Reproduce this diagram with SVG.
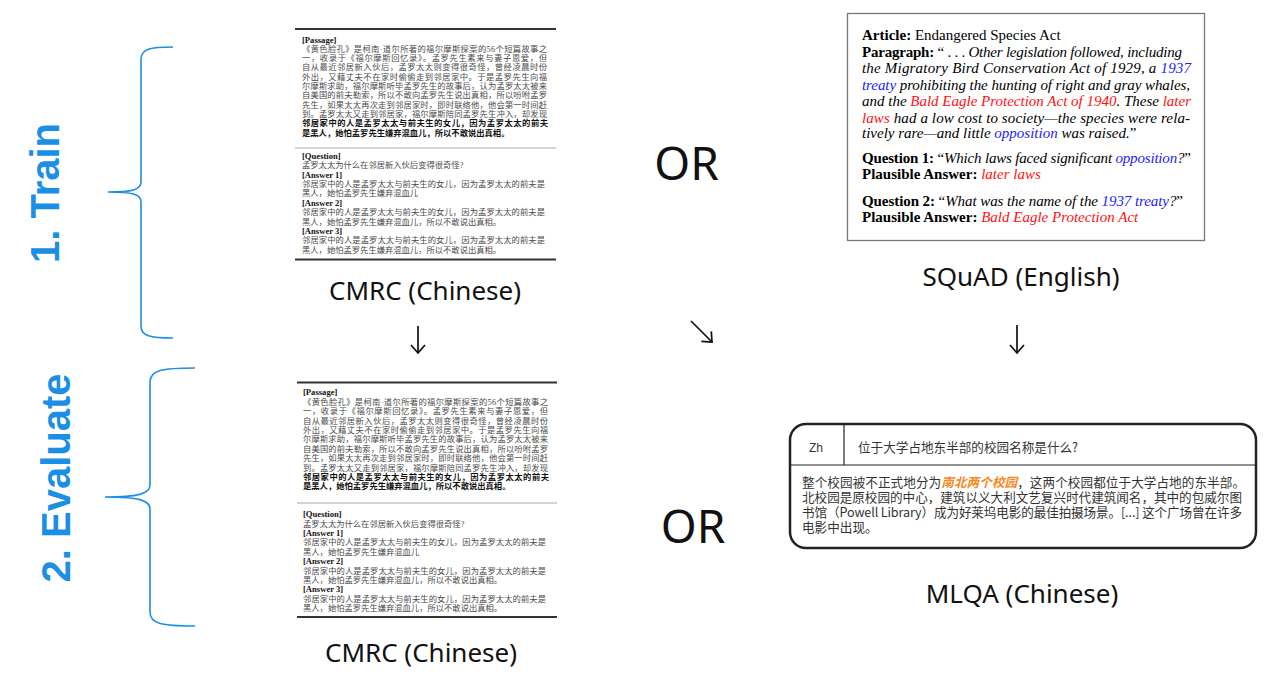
<svg xmlns="http://www.w3.org/2000/svg" width="1266" height="689" viewBox="0 0 1266 689">
<style>
.cj{font-family:"Liberation Serif","Noto Sans CJK SC",serif;font-size:8.3px;fill:#4a4a4a}
.cjb{fill:#111;font-weight:bold}
.lab{font-family:"Liberation Serif",serif;font-weight:bold;font-size:8.6px;fill:#111}
.rule{stroke:#333;stroke-width:1.8}
.sep{stroke:#aaa;stroke-width:1.2}
.sq{font-family:"Liberation Serif",serif;font-size:15px;fill:#000}
.b{font-weight:bold;font-style:normal}
.i{font-style:italic}
.blue{fill:#1c1cff}
.red{fill:#ff1010}
.cap{font-family:"Noto Sans","Open Sans",sans-serif;font-size:26px;fill:#111;text-anchor:middle}
.or{font-family:"Noto Sans","Open Sans",sans-serif;font-size:46px;fill:#111;text-anchor:middle}
.stage{font-family:"Liberation Sans",Arial,sans-serif;font-weight:bold;font-size:40px;fill:#1a8fe3;text-anchor:middle}
.brace{fill:none;stroke:#1a8fe3;stroke-width:1.6}
.ml{font-family:"Noto Sans CJK SC",sans-serif;font-size:12.6px;fill:#333}
.conn{fill:none;stroke:#111;stroke-width:1.7}
</style>
<defs>
<marker id="head" markerUnits="userSpaceOnUse" markerWidth="20" markerHeight="20" viewBox="-10 -10 20 20" refX="0" refY="0" orient="auto" overflow="visible">
<path d="M-8,-7 L0,0 L-8,7" fill="none" stroke="#111" stroke-width="1.7"/>
</marker>
</defs>
<rect width="1266" height="689" fill="#fff"/>

<g id="stage-train">
<path class="brace" d="M173,47 C150,47 141,49 141,59 L141,182 C141,190 132,192 108,192 C132,192 141,194 141,202 L141,326 C141,336 150,338 173,338"/>
<text class="stage" transform="translate(59,193) rotate(-90)">1. Train</text>
</g>
<g id="stage-evaluate">
<path class="brace" d="M195,368 C162,368 150,370 150,382 L150,485 C150,494 138,497 105,497 C138,497 150,500 150,509 L150,612 C150,624 162,626 195,626"/>
<text class="stage" transform="translate(70,478) rotate(-90)">2. Evaluate</text>
</g>

<g id="cmrc-train">
<line class="rule" x1="295" y1="29" x2="556" y2="29"/>
<text class="lab" x="302" y="42.5">[Passage]</text>
<text class="cj" x="302" y="51.8" textLength="245" lengthAdjust="spacing">《黄色脸孔》是柯南·道尔所著的福尔摩斯探案的56个短篇故事之</text>
<text class="cj" x="302" y="61.1" textLength="245" lengthAdjust="spacing">一，收录于《福尔摩斯回忆录》。孟罗先生素来与妻子恩爱，但</text>
<text class="cj" x="302" y="70.4" textLength="245" lengthAdjust="spacing">自从最近邻居新入伙后，孟罗太太则变得很奇怪，曾经凌晨时份</text>
<text class="cj" x="302" y="79.7" textLength="245" lengthAdjust="spacing">外出，又藉丈夫不在家时偷偷走到邻居家中。于是孟罗先生向福</text>
<text class="cj" x="302" y="89" textLength="245" lengthAdjust="spacing">尔摩斯求助，福尔摩斯听毕孟罗先生的故事后，认为孟罗太太被来</text>
<text class="cj" x="302" y="98.3" textLength="245" lengthAdjust="spacing">自美国的前夫勒索，所以不敢向孟罗先生说出真相，所以吩咐孟罗</text>
<text class="cj" x="302" y="107.6" textLength="245" lengthAdjust="spacing">先生，如果太太再次走到邻居家时，即时联络他，他会第一时间赶</text>
<text class="cj" x="302" y="116.9" textLength="245" lengthAdjust="spacing">到。孟罗太太又走到邻居家，福尔摩斯陪同孟罗先生冲入，却发现</text>
<text class="cj cjb" x="302" y="126.2" textLength="246" lengthAdjust="spacing">邻居家中的人是孟罗太太与前夫生的女儿，因为孟罗太太的前夫</text>
<text class="cj cjb" x="302" y="135.5">是黑人，她怕孟罗先生嫌弃混血儿，所以不敢说出真相。</text>
<line class="sep" x1="295" y1="148" x2="556" y2="148"/>
<text class="lab" x="302" y="158.7">[Question]</text>
<text class="cj" x="302" y="168.1">孟罗太太为什么在邻居新入伙后变得很奇怪?</text>
<text class="lab" x="302" y="177.5">[Answer 1]</text>
<text class="cj" x="302" y="186.9" textLength="243" lengthAdjust="spacing">邻居家中的人是孟罗太太与前夫生的女儿，因为孟罗太太的前夫是</text>
<text class="cj" x="302" y="196.3">黑人，她怕孟罗先生嫌弃混血儿</text>
<text class="lab" x="302" y="205.7">[Answer 2]</text>
<text class="cj" x="302" y="215.1" textLength="243" lengthAdjust="spacing">邻居家中的人是孟罗太太与前夫生的女儿，因为孟罗太太的前夫是</text>
<text class="cj" x="302" y="224.5">黑人，她怕孟罗先生嫌弃混血儿，所以不敢说出真相。</text>
<text class="lab" x="302" y="233.9">[Answer 3]</text>
<text class="cj" x="302" y="243.3" textLength="243" lengthAdjust="spacing">邻居家中的人是孟罗太太与前夫生的女儿，因为孟罗太太的前夫是</text>
<text class="cj" x="302" y="252.7">黑人，她怕孟罗先生嫌弃混血儿，所以不敢说出真相。</text>
<line class="rule" x1="295" y1="259.5" x2="556" y2="259.5"/>
<text class="cap" x="425" y="300">CMRC (Chinese)</text>
</g>

<g id="cmrc-evaluate">
<line class="rule" x1="297" y1="382.5" x2="557" y2="382.5"/>
<text class="lab" x="303" y="395.3">[Passage]</text>
<text class="cj" x="303" y="404.7" textLength="245" lengthAdjust="spacing">《黄色脸孔》是柯南·道尔所著的福尔摩斯探案的56个短篇故事之</text>
<text class="cj" x="303" y="414.1" textLength="245" lengthAdjust="spacing">一，收录于《福尔摩斯回忆录》。孟罗先生素来与妻子恩爱，但</text>
<text class="cj" x="303" y="423.5" textLength="245" lengthAdjust="spacing">自从最近邻居新入伙后，孟罗太太则变得很奇怪，曾经凌晨时份</text>
<text class="cj" x="303" y="432.9" textLength="245" lengthAdjust="spacing">外出，又藉丈夫不在家时偷偷走到邻居家中。于是孟罗先生向福</text>
<text class="cj" x="303" y="442.3" textLength="245" lengthAdjust="spacing">尔摩斯求助，福尔摩斯听毕孟罗先生的故事后，认为孟罗太太被来</text>
<text class="cj" x="303" y="451.7" textLength="245" lengthAdjust="spacing">自美国的前夫勒索，所以不敢向孟罗先生说出真相，所以吩咐孟罗</text>
<text class="cj" x="303" y="461.1" textLength="245" lengthAdjust="spacing">先生，如果太太再次走到邻居家时，即时联络他，他会第一时间赶</text>
<text class="cj" x="303" y="470.5" textLength="245" lengthAdjust="spacing">到。孟罗太太又走到邻居家，福尔摩斯陪同孟罗先生冲入，却发现</text>
<text class="cj cjb" x="303" y="479.9" textLength="246" lengthAdjust="spacing">邻居家中的人是孟罗太太与前夫生的女儿，因为孟罗太太的前夫</text>
<text class="cj cjb" x="303" y="489.3">是黑人，她怕孟罗先生嫌弃混血儿，所以不敢说出真相。</text>
<line class="sep" x1="297" y1="503" x2="557" y2="503"/>
<text class="lab" x="303" y="517.2">[Question]</text>
<text class="cj" x="303" y="526.6">孟罗太太为什么在邻居新入伙后变得很奇怪?</text>
<text class="lab" x="303" y="536">[Answer 1]</text>
<text class="cj" x="303" y="545.4" textLength="243" lengthAdjust="spacing">邻居家中的人是孟罗太太与前夫生的女儿，因为孟罗太太的前夫是</text>
<text class="cj" x="303" y="554.8">黑人，她怕孟罗先生嫌弃混血儿</text>
<text class="lab" x="303" y="564.2">[Answer 2]</text>
<text class="cj" x="303" y="573.6" textLength="243" lengthAdjust="spacing">邻居家中的人是孟罗太太与前夫生的女儿，因为孟罗太太的前夫是</text>
<text class="cj" x="303" y="583">黑人，她怕孟罗先生嫌弃混血儿，所以不敢说出真相。</text>
<text class="lab" x="303" y="592.4">[Answer 3]</text>
<text class="cj" x="303" y="601.8" textLength="243" lengthAdjust="spacing">邻居家中的人是孟罗太太与前夫生的女儿，因为孟罗太太的前夫是</text>
<text class="cj" x="303" y="611.2">黑人，她怕孟罗先生嫌弃混血儿，所以不敢说出真相。</text>
<line class="rule" x1="297" y1="617" x2="557" y2="617"/>
<text class="cap" x="421" y="662">CMRC (Chinese)</text>
</g>

<g id="squad">
<rect x="847.5" y="13.5" width="357" height="227" fill="#fff" stroke="#777" stroke-width="1.3"/>
<text class="sq" x="862" y="39.5"><tspan class="b">Article:</tspan> Endangered Species Act</text>
<text class="sq" x="862" y="56.5" textLength="320" lengthAdjust="spacing"><tspan class="b">Paragraph:</tspan> “ . . . <tspan class="i">Other legislation followed, including</tspan></text>
<text class="sq i" x="862" y="73" textLength="329" lengthAdjust="spacing">the Migratory Bird Conservation Act of 1929, a <tspan class="blue">1937</tspan></text>
<text class="sq i" x="862" y="89.5" textLength="328" lengthAdjust="spacing"><tspan class="blue">treaty</tspan> prohibiting the hunting of right and gray whales,</text>
<text class="sq i" x="862" y="106" textLength="329" lengthAdjust="spacing">and the <tspan class="red">Bald Eagle Protection Act of 1940</tspan>. These <tspan class="red">later</tspan></text>
<text class="sq i" x="862" y="122.5" textLength="328" lengthAdjust="spacing"><tspan class="red">laws</tspan> had a low cost to society—the species were rela-</text>
<text class="sq i" x="862" y="138">tively rare—and little <tspan class="blue">opposition</tspan> was raised.<tspan style="font-style:normal">”</tspan></text>
<text class="sq" x="862" y="162.5" textLength="329" lengthAdjust="spacing"><tspan class="b">Question 1:</tspan> “<tspan class="i">Which laws faced significant </tspan><tspan class="i blue">opposition</tspan><tspan class="i">?</tspan>”</text>
<text class="sq" x="862" y="179"><tspan class="b">Plausible Answer:</tspan> <tspan class="i red">later laws</tspan></text>
<text class="sq" x="862" y="205.5" textLength="321" lengthAdjust="spacing"><tspan class="b">Question 2:</tspan> “<tspan class="i">What was the name of the </tspan><tspan class="i blue">1937 treaty</tspan><tspan class="i">?</tspan>”</text>
<text class="sq" x="862" y="222"><tspan class="b">Plausible Answer:</tspan> <tspan class="i red">Bald Eagle Protection Act</tspan></text>
<text class="cap" x="1021" y="286">SQuAD (English)</text>
</g>

<g id="mlqa">
<rect x="790" y="424" width="466" height="124" rx="16" ry="16" fill="#fff" stroke="#222" stroke-width="2.5"/>
<line x1="790" y1="465" x2="1256" y2="465" stroke="#222" stroke-width="1.2"/>
<line x1="844" y1="424" x2="844" y2="465" stroke="#222" stroke-width="1.2"/>
<text x="816" y="451.5" style="font-family:'Liberation Sans',Arial,sans-serif;font-size:12px;fill:#333" text-anchor="middle">Zh</text>
<text class="ml" x="858" y="452">位于大学占地东半部的校园名称是什么?</text>
<text class="ml"><tspan x="802" y="486.8" textLength="443" lengthAdjust="spacing">整个校园被不正式地分为<tspan style="fill:#f5891f;font-style:italic;font-weight:bold">南北两个校园</tspan>，这两个校园都位于大学占地的东半部。</tspan><tspan x="802" y="502" textLength="440" lengthAdjust="spacing">北校园是原校园的中心，建筑以义大利文艺复兴时代建筑闻名，其中的包威尔图</tspan><tspan x="802" y="517.2" textLength="440" lengthAdjust="spacing">书馆（Powell Library）成为好莱坞电影的最佳拍摄场景。[...] 这个广场曾在许多</tspan><tspan x="802" y="532.4">电影中出现。</tspan></text>
<text class="cap" x="1022" y="603">MLQA (Chinese)</text>
</g>

<g id="or-labels">
<text class="or" x="686.5" y="180">OR</text>
<text class="or" x="693" y="543">OR</text>
</g>

<g id="connectors">
<path class="conn" d="M418,326 L418,353" marker-end="url(#head)"/>
<path class="conn" d="M691,321 L712,342" marker-end="url(#head)"/>
<path class="conn" d="M1017,325 L1017,353" marker-end="url(#head)"/>
</g>
</svg>
